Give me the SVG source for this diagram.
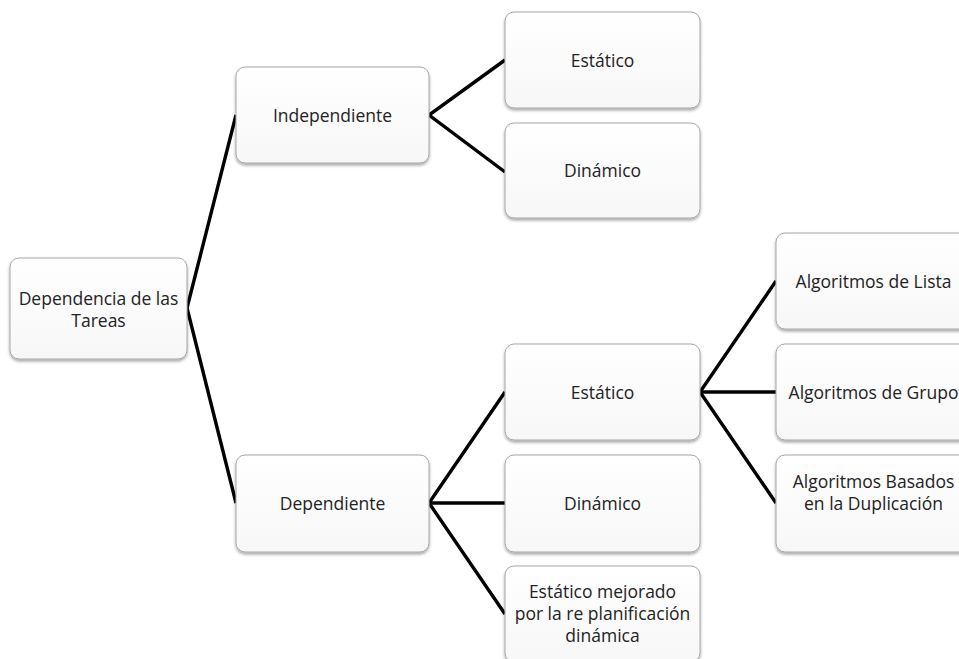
<svg xmlns="http://www.w3.org/2000/svg" width="959" height="659" viewBox="0 0 959 659">
<defs>
<linearGradient id="g" x1="0" y1="0" x2="0" y2="1">
<stop offset="0" stop-color="#ffffff"/>
<stop offset="1" stop-color="#f7f7f7"/>
</linearGradient>
<filter id="sh" x="-10%" y="-10%" width="120%" height="130%">
<feDropShadow dx="0" dy="2" stdDeviation="1.8" flood-color="#000" flood-opacity="0.35"/>
</filter>
<style>
.box{fill:url(#g);stroke:#a6a6a6;stroke-width:1;filter:url(#sh)}
.t{font-family:"Open Sans","Liberation Sans",sans-serif;font-size:17.5px;fill:#222;text-anchor:middle}
.c{stroke:#000;stroke-width:3.4;fill:none;stroke-linejoin:miter}
</style>
</defs>
<rect width="959" height="659" fill="#fff"/>
<g id="connectors">
<polyline class="c" points="236,115 187,308 236,503"/>
<polyline class="c" points="505,60 429,115 505,172"/>
<polyline class="c" points="505,392 429,503 505,614"/>
<line class="c" x1="429" y1="503" x2="505" y2="503"/>
<polyline class="c" points="776,281 700,392 776,503"/>
<line class="c" x1="700" y1="392" x2="776" y2="392"/>
</g>
<g id="root"><rect class="box" x="10" y="258" width="177" height="101" rx="9"/><text class="t" x="98.5" y="305">Dependencia de las</text><text class="t" x="98.5" y="327">Tareas</text></g>
<g id="independiente"><rect class="box" x="236" y="67" width="193" height="96" rx="9"/><text class="t" x="332.5" y="122">Independiente</text></g>
<g id="ind-estatico"><rect class="box" x="505" y="12" width="195" height="96" rx="9"/><text class="t" x="602.5" y="67">Estático</text></g>
<g id="ind-dinamico"><rect class="box" x="505" y="123" width="195" height="95" rx="9"/><text class="t" x="602.5" y="177">Dinámico</text></g>
<g id="dependiente"><rect class="box" x="236" y="455" width="193" height="97" rx="9"/><text class="t" x="332.5" y="510">Dependiente</text></g>
<g id="dep-estatico"><rect class="box" x="505" y="344" width="195" height="96" rx="9"/><text class="t" x="602.5" y="399">Estático</text></g>
<g id="dep-dinamico"><rect class="box" x="505" y="455" width="195" height="97" rx="9"/><text class="t" x="602.5" y="510">Dinámico</text></g>
<g id="dep-mejorado"><rect class="box" x="505" y="566" width="195" height="96" rx="9"/><text class="t" x="602.5" y="598">Estático mejorado</text><text class="t" x="602.5" y="620">por la re planificación</text><text class="t" x="602.5" y="642">dinámica</text></g>
<g id="alg-lista"><rect class="box" x="776" y="233" width="195" height="96" rx="9"/><text class="t" x="873.5" y="288">Algoritmos de Lista</text></g>
<g id="alg-grupo"><rect class="box" x="776" y="344" width="195" height="96" rx="9"/><text class="t" x="873.5" y="399">Algoritmos de Grupo</text></g>
<g id="alg-basados"><rect class="box" x="776" y="455" width="195" height="97" rx="9"/><text class="t" x="873.5" y="488">Algoritmos Basados</text><text class="t" x="873.5" y="510">en la Duplicación</text></g>
</svg>
